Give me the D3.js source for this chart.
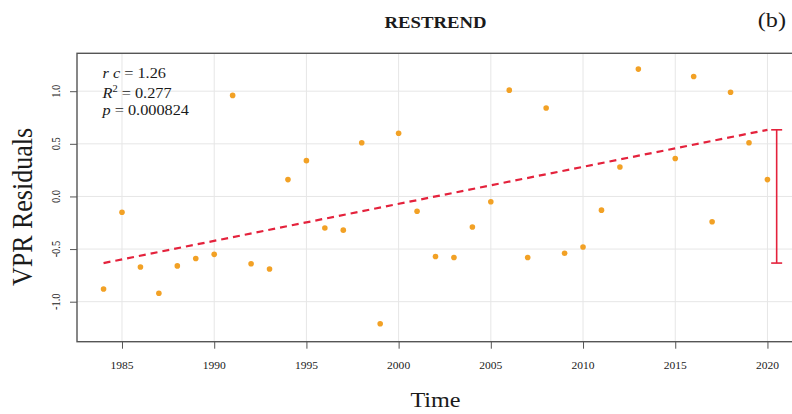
<!DOCTYPE html>
<html>
<head>
<meta charset="utf-8">
<script src="https://cdn.jsdelivr.net/npm/d3@7"></script>
<style>
  html, body { margin: 0; padding: 0; background: #fff; }
  svg { display: block; }
  text { font-family: "Liberation Serif", "Times New Roman", serif; fill: #1a1a1a; }
</style>
</head>
<body>
<svg id="chart" width="792" height="414"></svg>
<script>
// Years with a residual value (no observation for 2014)
const years = [1984, 1985, 1986, 1987, 1988, 1989, 1990, 1991, 1992, 1993,
               1994, 1995, 1996, 1997, 1998, 1999, 2000, 2001, 2002, 2003,
               2004, 2005, 2006, 2007, 2008, 2009, 2010, 2011, 2012, 2013,
               2015, 2016, 2017, 2018, 2019, 2020];
// VPR residuals per year
const residuals = [-0.88, -0.15, -0.67, -0.92, -0.66, -0.59, -0.55, 0.96, -0.64, -0.69,
                   0.16, 0.34, -0.30, -0.32, 0.51, -1.21, 0.60, -0.14, -0.57, -0.58,
                   -0.29, -0.05, 1.01, -0.58, 0.84, -0.54, -0.48, -0.13, 0.28, 1.21,
                   0.36, 1.14, -0.24, 0.99, 0.51, 0.16];
// Fitted trend: start and end points
const trendYears = [1984, 2020];
const trendValues = [-0.633, 0.633];
// Range bar showing total change (rc)
const rangeBarYear = 2020.5;
const rangeBarValues = [-0.633, 0.633];
// Axis ticks
const xTicks = [1985, 1990, 1995, 2000, 2005, 2010, 2015, 2020];
const yTicks = [-1.0, -0.5, 0.0, 0.5, 1.0];
const yTickLabels = ["-1.0", "-0.5", "0.0", "0.5", "1.0"];
// Statistics
const statRc = "1.26";
const statR2 = "0.277";
const statP = "0.000824";

const svg = d3.select("#chart");
const box = { left: 77, right: 794, top: 53.3, bottom: 341.7 };
const SX = 1.1; // horizontal glyph stretch

const x = d3.scaleLinear().domain([1982.56, 2021.44]).range([box.left, box.right]);
const y = d3.scaleLinear().domain([-1.38, 1.36]).range([box.bottom, box.top]);

// grid
const grid = svg.append("g").attr("stroke", "#e6e6e6").attr("stroke-width", 1);
grid.selectAll("line.v").data(xTicks).join("line")
  .attr("x1", d => x(d)).attr("x2", d => x(d))
  .attr("y1", box.top).attr("y2", box.bottom);
grid.selectAll("line.h").data(yTicks).join("line")
  .attr("y1", d => y(d)).attr("y2", d => y(d))
  .attr("x1", box.left).attr("x2", box.right);

// axes
const xAxis = d3.axisBottom(x).tickValues(xTicks).tickSize(7).tickFormat("");
const gx = svg.append("g").attr("transform", `translate(0,${box.bottom})`).call(xAxis);
gx.select(".domain").remove();
gx.selectAll("line").attr("stroke", "#555");

const yAxis = d3.axisLeft(y).tickValues(yTicks).tickSize(7).tickFormat("");
const gy = svg.append("g").attr("transform", `translate(${box.left},0)`).call(yAxis);
gy.select(".domain").remove();
gy.selectAll("line").attr("stroke", "#555");

// tick labels
svg.append("g").selectAll("text").data(xTicks).join("text")
  .attr("transform", d => `translate(${x(d)},369) scale(${SX},1)`)
  .attr("text-anchor", "middle").attr("font-size", 10.5)
  .text(d => d);
svg.append("g").selectAll("text").data(yTicks).join("text")
  .attr("transform", d => `translate(60,${y(d)}) scale(${SX},1) rotate(-90)`)
  .attr("text-anchor", "middle").attr("font-size", 10.5)
  .text((d, i) => yTickLabels[i]);

// plot frame
svg.append("rect")
  .attr("x", box.left).attr("y", box.top)
  .attr("width", box.right - box.left).attr("height", box.bottom - box.top)
  .attr("fill", "none").attr("stroke", "#555").attr("stroke-width", 1.4);

// trend line
svg.append("line")
  .attr("x1", x(trendYears[0])).attr("y1", y(trendValues[0]))
  .attr("x2", x(trendYears[1])).attr("y2", y(trendValues[1]))
  .attr("stroke", "#e4223c").attr("stroke-width", 2.2)
  .attr("stroke-dasharray", "7,5");

// range bar
const rb = svg.append("g").attr("stroke", "#e4223c").attr("stroke-width", 1.6);
rb.append("line")
  .attr("x1", x(rangeBarYear)).attr("x2", x(rangeBarYear))
  .attr("y1", y(rangeBarValues[0])).attr("y2", y(rangeBarValues[1]));
rb.selectAll("line.cap").data(rangeBarValues).join("line")
  .attr("x1", x(rangeBarYear) - 5.5).attr("x2", x(rangeBarYear) + 5.5)
  .attr("y1", d => y(d)).attr("y2", d => y(d));

// points
svg.append("g").selectAll("circle").data(years).join("circle")
  .attr("cx", d => x(d)).attr("cy", (d, i) => y(residuals[i]))
  .attr("r", 2.8).attr("fill", "#f2a125");

// statistics text
function stat(yb, parts) {
  const t = svg.append("text")
    .attr("transform", `translate(102.5,${yb}) scale(${SX},1)`)
    .attr("font-size", 14.8);
  parts.forEach(p => {
    const s = t.append("tspan").text(p.t);
    if (p.i) s.attr("font-style", "italic");
    if (p.sup) s.attr("font-size", 9.5).attr("dy", -6.5);
    if (p.down) s.attr("dy", 6.5);
  });
}
stat(78, [{ t: "r c", i: true }, { t: " = " + statRc }]);
stat(98, [{ t: "R", i: true }, { t: "2", sup: true }, { t: " = " + statR2, down: true }]);
stat(115, [{ t: "p", i: true }, { t: " = " + statP }]);

// titles
svg.append("text")
  .attr("transform", `translate(435.5,28) scale(${SX},1)`)
  .attr("text-anchor", "middle").attr("font-size", 17).attr("font-weight", "bold")
  .text("RESTREND");
svg.append("text")
  .attr("transform", `translate(786,27) scale(${SX},1)`)
  .attr("text-anchor", "end").attr("font-size", 22)
  .text("(b)");
svg.append("text")
  .attr("transform", `translate(435.5,407) scale(${SX},1)`)
  .attr("text-anchor", "middle").attr("font-size", 22)
  .text("Time");
svg.append("text")
  .attr("transform", `translate(32,207) scale(${SX},1) rotate(-90)`)
  .attr("text-anchor", "middle").attr("font-size", 26)
  .text("VPR Residuals");
</script>
</body>
</html>
